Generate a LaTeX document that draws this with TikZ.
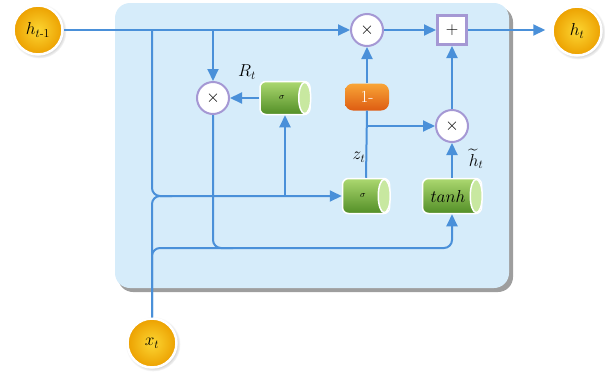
\documentclass[tikz,border=0pt]{standalone}
\usepackage{amsmath}
\usetikzlibrary{arrows.meta,shadows}
\definecolor{lnblue}{RGB}{74,144,217}
\definecolor{panelblue}{RGB}{214,236,250}
\definecolor{opurple}{RGB}{165,152,212}
\definecolor{gold1}{RGB}{252,214,50}
\definecolor{gold2}{RGB}{236,160,0}
\definecolor{grn1}{RGB}{172,216,112}
\definecolor{grn2}{RGB}{82,142,38}
\definecolor{grnface}{RGB}{200,232,160}
\definecolor{org1}{RGB}{248,165,55}
\definecolor{org2}{RGB}{222,92,18}
\newcommand{\greencyl}[6]{%
  \node[cylbody,minimum width=#4,minimum height=#5] (#1) at (#2,#3) {#6};
  \filldraw[white,line width=1.5pt,fill=grnface] ([xshift=-6pt]#1.east) ellipse (6pt and #5/2-0.8pt);
}
\begin{document}
\begin{tikzpicture}[x=1pt,y=-1pt,
  ln/.style={draw=lnblue,line width=2pt},
  arr/.style={ln,-{Triangle[length=12pt,width=11pt]}},
  yc/.style={circle,minimum size=49pt,inner sep=0pt,draw=white,line width=2.5pt,
    inner color=gold1,outer color=gold2,
    circular drop shadow={shadow xshift=1pt,shadow yshift=-1pt,opacity=0.35,shadow scale=1.12},
    font=\fontsize{17}{20}\selectfont},
  mult/.style={circle,minimum size=32pt,inner sep=0pt,fill=white,draw=opurple,line width=2pt,
    font=\fontsize{17}{20}\selectfont},
  plusbox/.style={rectangle,minimum size=29pt,inner sep=0pt,fill=white,draw=opurple,line width=3pt,
    font=\fontsize{17}{20}\selectfont},
  cylbody/.style={rectangle,rounded corners=6pt,inner sep=0pt,draw=white,line width=1.5pt,
    top color=grn1,bottom color=grn2},
  onebox/.style={rectangle,rounded corners=8pt,minimum width=44pt,minimum height=27pt,inner sep=0pt,
    top color=org1,bottom color=org2,text=white,font=\fontsize{17}{20}\selectfont},
  lbl/.style={font=\fontsize{17}{20}\selectfont,inner sep=0pt}
]
\useasboundingbox (0,0) rectangle (605,381);
% panel
\fill[black!38,rounded corners=15pt] (118,7) rectangle (513,292);
\fill[panelblue,rounded corners=15pt] (115,3) rectangle (509,288);

% nodes
\node[yc] (ht1) at (38,30) {$h_{t\text{-}1}$};
\node[yc] (ht) at (577,31) {$h_t$};
\node[yc] (xt) at (152,343) {$x_t$};
\node[mult] (m1) at (367,30) {$\times$};
\node[mult] (mR) at (213,98) {$\times$};
\node[mult] (m2) at (452,126) {$\times$};
\node[plusbox] (plus) at (452,30) {$+$};
\greencyl{sR}{285}{98}{50pt}{33pt}{\hspace*{-6pt}\fontsize{9}{10}\selectfont$\sigma$}
\greencyl{zs}{366}{196}{47pt}{35pt}{\hspace*{-6pt}\fontsize{9}{10}\selectfont$\sigma$}
\greencyl{tanh}{452}{196}{59pt}{35pt}{\hspace*{-8pt}\fontsize{18}{20}\selectfont$tanh$}
\node[onebox] (one) at (367,97) {1-};
\node[lbl] (Rl) at (247,72) {$R_t$};
\node[lbl] (zl) at (359,157) {$z_t$};
\node[lbl] (hl) at (476,159) {$\widetilde{h}_t$};

% junction coordinates
\coordinate (a1) at (152,30);
\coordinate (a2) at (213,30);
\coordinate (b1) at (152,196);
\coordinate (b2) at (285,196);
\coordinate (c0) at (152,248);
\coordinate (c1) at (213,248);
\coordinate (c2) at (452,248);
\coordinate (d1) at (367,126);

% connectors
\draw[arr] (ht1.east) -- (m1.west);
\draw[arr] (m1.east) -- (plus.west);
\draw[arr,shorten >=6pt] (plus.east) -- (plus.east -| ht.west);
\draw[arr] (a2) -- (mR.north);
\draw[arr] (sR.west) -- (mR.east);
\draw[arr] (b2) -- (sR.south);
\draw[arr,rounded corners=8pt] (a1) -- (b1) -- (zs.west);
\draw[ln,rounded corners=8pt] (xt.north) -- (b1) -- ++(20,0);
\draw[arr,rounded corners=8pt] (xt.north) -- (c0) -- (c2) -- (tanh.south);
\draw[ln,rounded corners=8pt] (mR.south) -- (c1) -- ++(20,0);
\draw[ln] (zs.north) -- (one.south);
\draw[arr] (one.north) -- (m1.south);
\draw[arr] (d1) -- (m2.west);
\draw[arr] (tanh.north) -- (m2.south);
\draw[arr] (m2.north) -- (plus.south);
\end{tikzpicture}
\end{document}
